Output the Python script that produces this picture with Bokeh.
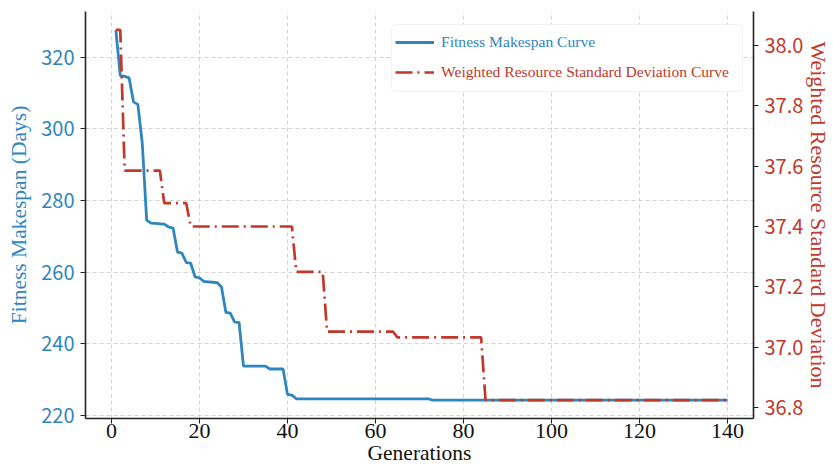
from bokeh.plotting import figure
from bokeh.models import (Range1d, LinearAxis, Legend, LegendItem,
                          FixedTicker, PrintfTickFormatter, ColumnDataSource, BoxAnnotation)
from bokeh.embed import file_html
from bokeh.resources import INLINE

# ---------------- data ----------------
generations = list(range(1, 141))

makespan = [
    327.5, 314.8, 314.6, 314.2, 307.5, 306.8, 296.0, 274.5, 273.7, 273.6,
    273.5, 273.4, 272.6, 272.3, 265.6, 265.3, 262.7, 262.5, 258.7, 258.4,
    257.4, 257.3, 257.2, 257.1, 255.9, 248.8, 248.6, 246.1, 246.0, 233.8,
    233.8, 233.8, 233.8, 233.8, 233.8, 233.0, 233.0, 233.0, 233.0, 225.9,
    225.7, 224.7, 224.7, 224.7, 224.7, 224.7, 224.7, 224.7, 224.7, 224.7,
    224.7, 224.7, 224.7, 224.7, 224.7, 224.7, 224.7, 224.7, 224.7, 224.7,
    224.7, 224.7, 224.7, 224.7, 224.7, 224.7, 224.7, 224.7, 224.7, 224.7,
    224.7, 224.7, 224.3, 224.3, 224.3, 224.3, 224.3, 224.3, 224.3, 224.3,
    224.3, 224.3, 224.3, 224.3, 224.3, 224.3, 224.3, 224.3, 224.3, 224.3,
    224.3, 224.3, 224.3, 224.3, 224.3, 224.3, 224.3, 224.3, 224.3, 224.3,
    224.3, 224.3, 224.3, 224.3, 224.3, 224.3, 224.3, 224.3, 224.3, 224.3,
    224.3, 224.3, 224.3, 224.3, 224.3, 224.3, 224.3, 224.3, 224.3, 224.3,
    224.3, 224.3, 224.3, 224.3, 224.3, 224.3, 224.3, 224.3, 224.3, 224.3,
    224.3, 224.3, 224.3, 224.3, 224.3, 224.3, 224.3, 224.3, 224.3, 224.3,
]

std_dev = [
    38.05, 38.05, 37.585, 37.585, 37.585, 37.585, 37.585, 37.585, 37.585, 37.585,
    37.585, 37.477, 37.477, 37.477, 37.477, 37.477, 37.477, 37.40, 37.40, 37.40,
    37.40, 37.40, 37.40, 37.40, 37.40, 37.40, 37.40, 37.40, 37.40, 37.40,
    37.40, 37.40, 37.40, 37.40, 37.40, 37.40, 37.40, 37.40, 37.40, 37.40,
    37.40, 37.25, 37.25, 37.25, 37.25, 37.25, 37.25, 37.25, 37.052, 37.052,
    37.052, 37.052, 37.052, 37.052, 37.052, 37.052, 37.052, 37.052, 37.052, 37.052,
    37.052, 37.052, 37.052, 37.052, 37.033, 37.033, 37.033, 37.033, 37.033, 37.033,
    37.033, 37.033, 37.033, 37.033, 37.033, 37.033, 37.033, 37.033, 37.033, 37.033,
    37.033, 37.033, 37.033, 37.033, 36.826, 36.826, 36.826, 36.826, 36.826, 36.826,
    36.826, 36.826, 36.826, 36.826, 36.826, 36.826, 36.826, 36.826, 36.826, 36.826,
    36.826, 36.826, 36.826, 36.826, 36.826, 36.826, 36.826, 36.826, 36.826, 36.826,
    36.826, 36.826, 36.826, 36.826, 36.826, 36.826, 36.826, 36.826, 36.826, 36.826,
    36.826, 36.826, 36.826, 36.826, 36.826, 36.826, 36.826, 36.826, 36.826, 36.826,
    36.826, 36.826, 36.826, 36.826, 36.826, 36.826, 36.826, 36.826, 36.826, 36.826,
]

x_ticks = [0, 20, 40, 60, 80, 100, 120, 140]
left_ticks = [220, 240, 260, 280, 300, 320]
right_ticks = [36.8, 37.0, 37.2, 37.4, 37.6, 37.8, 38.0]

label_makespan = "Fitness Makespan Curve"
label_std = "Weighted Resource Standard Deviation Curve"
x_title = "Generations"
left_title = "Fitness Makespan (Days)"
right_title = "Weighted Resource Standard Deviation"

# ---------------- style ----------------
BLUE = "#2E86C1"
RED = "#C0392B"
GRID = "#d4d4d4"
INK = "#222222"
SERIF = "Liberation Serif"
SANS = "Noto Sans CJK SC"

src = ColumnDataSource(dict(gen=generations, makespan=makespan, std=std_dev))

p = figure(width=834, height=469, output_backend="svg", toolbar_location=None,
           x_range=Range1d(-5.9, 145.9), y_range=Range1d(219.2, 332.7),
           min_border_left=85, min_border_right=81, min_border_top=11, min_border_bottom=51)
p.outline_line_color = None
p.background_fill_color = "white"
p.border_fill_color = "white"

p.extra_y_ranges = {"std": Range1d(36.765, 38.111)}

# grids
for g in (p.xgrid, p.ygrid):
    g.grid_line_color = GRID
    g.grid_line_dash = "4 3"
    g.grid_line_width = 1


def style_axis(ax, label_color, label_font, label_size, standoff):
    ax.major_label_text_font = label_font
    ax.major_label_text_font_size = label_size
    ax.major_label_text_color = label_color
    ax.major_label_standoff = standoff
    ax.axis_label_text_font = SERIF
    ax.axis_label_text_font_style = "normal"
    ax.axis_line_color = INK
    ax.axis_line_width = 1.6
    ax.major_tick_out = 5
    ax.major_tick_in = 0
    ax.minor_tick_line_color = None
    ax.major_tick_line_color = INK


# x axis
xa = p.xaxis[0]
xa.ticker = FixedTicker(ticks=x_ticks)
style_axis(xa, "#111111", SERIF, "22px", 0)
xa.axis_label = x_title
xa.axis_label_text_font_size = "21.5px"
xa.axis_label_text_color = "#111111"
xa.axis_label_standoff = 0

# left axis
ya = p.yaxis[0]
ya.ticker = FixedTicker(ticks=left_ticks)
style_axis(ya, BLUE, SANS, "20px", 6)
ya.axis_label = left_title
ya.axis_label_text_font_size = "21.5px"
ya.axis_label_text_color = BLUE
ya.axis_label_standoff = 7

# right axis
ra = LinearAxis(y_range_name="std", ticker=FixedTicker(ticks=right_ticks),
                formatter=PrintfTickFormatter(format="%.1f"))
style_axis(ra, RED, SANS, "20px", 6)
ra.axis_label = right_title
ra.axis_label_text_font_size = "22px"
ra.axis_label_text_color = RED
ra.axis_label_standoff = 0
p.add_layout(ra, "right")

# lines
r_blue = p.line("gen", "makespan", source=src, line_color=BLUE, line_width=2.8)
r_red = p.line("gen", "std", source=src, y_range_name="std", line_color=RED,
               line_width=2.7, line_dash="17 5 2 5")

# legend box
p.add_layout(BoxAnnotation(left=306, right=657, bottom=327, top=394,
                           left_units="screen", right_units="screen",
                           bottom_units="screen", top_units="screen",
                           fill_color="white", fill_alpha=1.0,
                           line_color="#cfcfcf", line_width=1, border_radius=4))

common = dict(border_line_color=None, background_fill_alpha=0,
              label_text_font=SERIF, label_text_font_size="15.6px",
              glyph_width=39, glyph_height=20, label_height=20,
              label_standoff=7, padding=6, margin=0, spacing=0)

leg_blue = Legend(items=[LegendItem(label=label_makespan, renderers=[r_blue])],
                  location=(310, 366), label_text_color=BLUE, **common)
leg_red = Legend(items=[LegendItem(label=label_std, renderers=[r_red])],
                 location=(310, 336), label_text_color=RED, **common)
p.add_layout(leg_blue)
p.add_layout(leg_red)

open("out.html", "w").write(file_html(p, INLINE))
